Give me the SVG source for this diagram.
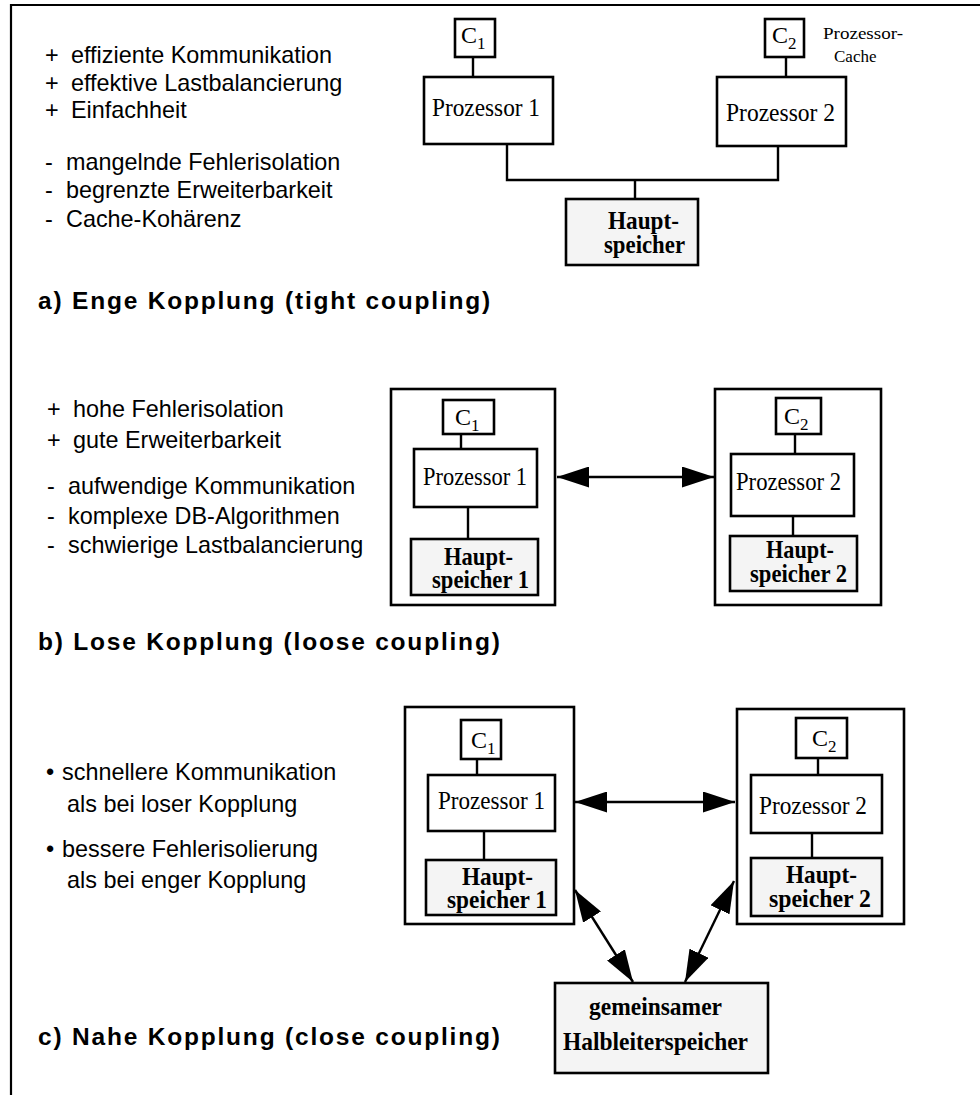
<svg xmlns="http://www.w3.org/2000/svg" width="980" height="1095" viewBox="0 0 980 1095">
  <style>
    .box { fill: #ffffff; stroke: #000000; stroke-width: 2.6; }
    .mem { fill: #f4f4f4; stroke: #000000; stroke-width: 2.6; }
    .frame { fill: none; stroke: #000000; stroke-width: 2.2; }
    .link { fill: none; stroke: #000000; stroke-width: 2.4; }
    .arrow { fill: none; stroke: #000000; stroke-width: 2.4; marker-start: url(#head); marker-end: url(#head); }
    .lbl { font-family: "Liberation Serif", "Times New Roman", serif; font-size: 26px; fill: #000000; }
    .lblb { font-family: "Liberation Serif", "Times New Roman", serif; font-size: 25px; font-weight: bold; fill: #000000; }
    .cache { font-family: "Liberation Serif", "Times New Roman", serif; font-size: 24px; fill: #000000; }
    .note { font-family: "Liberation Serif", "Times New Roman", serif; font-size: 17px; fill: #000000; }
    .txt { font-family: "Liberation Sans", Arial, sans-serif; font-size: 23.4px; fill: #000000; }
    .title { font-family: "Liberation Sans", Arial, sans-serif; font-size: 24.5px; font-weight: bold; letter-spacing: 1.8px; fill: #000000; }
  </style>
  <defs>
    <marker id="head" viewBox="0 0 32 21" refX="32" refY="10.5" markerWidth="32" markerHeight="21" markerUnits="userSpaceOnUse" orient="auto-start-reverse">
      <path d="M0,0 L32,10.5 L0,21 z" fill="#000000"/>
    </marker>
  </defs>

  <!-- page frame: top and left edges only -->
  <path class="frame" d="M11,1095 V5 H980"/>

  <!-- ===== a) tight coupling ===== -->
  <g id="a-text">
    <text class="txt" x="45" y="63">+</text><text class="txt" x="71" y="63">effiziente Kommunikation</text>
    <text class="txt" x="45" y="91">+</text><text class="txt" x="71" y="91">effektive Lastbalancierung</text>
    <text class="txt" x="45" y="118">+</text><text class="txt" x="71" y="118">Einfachheit</text>
    <text class="txt" x="45" y="170">-</text><text class="txt" x="66" y="170">mangelnde Fehlerisolation</text>
    <text class="txt" x="45" y="198">-</text><text class="txt" x="66" y="198">begrenzte Erweiterbarkeit</text>
    <text class="txt" x="45" y="227">-</text><text class="txt" x="66" y="227">Cache-Kohärenz</text>
    <text class="title" x="38" y="309">a) Enge Kopplung (tight coupling)</text>
  </g>
  <g id="a-cache1">
    <rect class="box" x="455" y="19" width="40" height="38"/>
    <text class="cache" x="461" y="43">C<tspan font-size="17" dy="6">1</tspan></text>
  </g>
  <g id="a-cpu1">
    <rect class="box" x="424" y="77" width="129" height="67"/>
    <text class="lbl" x="432" y="116" textLength="108" lengthAdjust="spacingAndGlyphs">Prozessor 1</text>
  </g>
  <g id="a-cache2">
    <rect class="box" x="765" y="19" width="39" height="38"/>
    <text class="cache" x="772" y="43">C<tspan font-size="17" dy="6">2</tspan></text>
  </g>
  <g id="a-cache-note">
    <text class="note" x="823" y="39" textLength="80" lengthAdjust="spacingAndGlyphs">Prozessor-</text>
    <text class="note" x="834" y="62">Cache</text>
  </g>
  <g id="a-cpu2">
    <rect class="box" x="717" y="77" width="129" height="69"/>
    <text class="lbl" x="726" y="121" textLength="109" lengthAdjust="spacingAndGlyphs">Prozessor 2</text>
  </g>
  <g id="a-mem">
    <rect class="mem" x="566" y="199" width="132" height="66"/>
    <text class="lblb" x="608" y="229" textLength="71" lengthAdjust="spacingAndGlyphs">Haupt-</text>
    <text class="lblb" x="604" y="253" textLength="81" lengthAdjust="spacingAndGlyphs">speicher</text>
  </g>

  <!-- ===== b) loose coupling ===== -->
  <g id="b-text">
    <text class="txt" x="47" y="417">+</text><text class="txt" x="73" y="417">hohe Fehlerisolation</text>
    <text class="txt" x="47" y="448">+</text><text class="txt" x="73" y="448">gute Erweiterbarkeit</text>
    <text class="txt" x="47" y="494">-</text><text class="txt" x="68" y="494">aufwendige Kommunikation</text>
    <text class="txt" x="47" y="524">-</text><text class="txt" x="68" y="524">komplexe DB-Algorithmen</text>
    <text class="txt" x="47" y="553">-</text><text class="txt" x="68" y="553">schwierige Lastbalancierung</text>
    <text class="title" x="38" y="650">b) Lose Kopplung (loose coupling)</text>
  </g>
  <g id="b-node1">
    <rect class="box" x="391" y="389" width="164" height="216"/>
    <rect class="box" x="443" y="400" width="51" height="34"/>
    <text class="cache" x="455" y="425">C<tspan font-size="17" dy="6">1</tspan></text>
    <rect class="box" x="414" y="449" width="123" height="58"/>
    <text class="lbl" x="423" y="485" textLength="104" lengthAdjust="spacingAndGlyphs">Prozessor 1</text>
    <rect class="mem" x="411" y="539" width="127" height="56"/>
    <text class="lblb" x="444" y="565" textLength="69" lengthAdjust="spacingAndGlyphs">Haupt-</text>
    <text class="lblb" x="432" y="588" textLength="97" lengthAdjust="spacingAndGlyphs">speicher 1</text>
  </g>
  <g id="b-node2">
    <rect class="box" x="715" y="389" width="166" height="216"/>
    <rect class="box" x="776" y="398" width="45" height="36"/>
    <text class="cache" x="784" y="424">C<tspan font-size="17" dy="6">2</tspan></text>
    <rect class="box" x="731" y="454" width="123" height="62"/>
    <text class="lbl" x="736" y="490" textLength="105" lengthAdjust="spacingAndGlyphs">Prozessor 2</text>
    <rect class="mem" x="730" y="536" width="127" height="55"/>
    <text class="lblb" x="766" y="558" textLength="68" lengthAdjust="spacingAndGlyphs">Haupt-</text>
    <text class="lblb" x="750" y="582" textLength="97" lengthAdjust="spacingAndGlyphs">speicher 2</text>
  </g>

  <!-- ===== c) close coupling ===== -->
  <g id="c-text">
    <text class="txt" x="46" y="780">•</text><text class="txt" x="62" y="780">schnellere Kommunikation</text>
    <text class="txt" x="67" y="812">als bei loser Kopplung</text>
    <text class="txt" x="46" y="857">•</text><text class="txt" x="62" y="857">bessere Fehlerisolierung</text>
    <text class="txt" x="67" y="888">als bei enger Kopplung</text>
    <text class="title" x="38" y="1045">c) Nahe Kopplung (close coupling)</text>
  </g>
  <g id="c-node1">
    <rect class="box" x="405" y="707" width="169" height="217"/>
    <rect class="box" x="461" y="720" width="40" height="39"/>
    <text class="cache" x="471" y="748">C<tspan font-size="17" dy="6">1</tspan></text>
    <rect class="box" x="428" y="775" width="127" height="56"/>
    <text class="lbl" x="438" y="809" textLength="107" lengthAdjust="spacingAndGlyphs">Prozessor 1</text>
    <rect class="mem" x="426" y="860" width="130" height="55"/>
    <text class="lblb" x="462" y="885" textLength="71" lengthAdjust="spacingAndGlyphs">Haupt-</text>
    <text class="lblb" x="447" y="908" textLength="100" lengthAdjust="spacingAndGlyphs">speicher 1</text>
  </g>
  <g id="c-node2">
    <rect class="box" x="737" y="709" width="167" height="215"/>
    <rect class="box" x="796" y="718" width="51" height="40"/>
    <text class="cache" x="812" y="746">C<tspan font-size="17" dy="6">2</tspan></text>
    <rect class="box" x="751" y="775" width="131" height="58"/>
    <text class="lbl" x="759" y="814" textLength="108" lengthAdjust="spacingAndGlyphs">Prozessor 2</text>
    <rect class="mem" x="751" y="858" width="131" height="58"/>
    <text class="lblb" x="786" y="883" textLength="71" lengthAdjust="spacingAndGlyphs">Haupt-</text>
    <text class="lblb" x="769" y="907" textLength="102" lengthAdjust="spacingAndGlyphs">speicher 2</text>
  </g>
  <g id="c-shared">
    <rect class="mem" x="555" y="983" width="213" height="90"/>
    <text class="lblb" x="589" y="1015" textLength="133" lengthAdjust="spacingAndGlyphs">gemeinsamer</text>
    <text class="lblb" x="563" y="1050" textLength="185" lengthAdjust="spacingAndGlyphs">Halbleiterspeicher</text>
  </g>

  <!-- connectors -->
  <g id="connectors">
    <!-- a -->
    <line class="link" x1="473" y1="57" x2="473" y2="77"/>
    <line class="link" x1="786" y1="57" x2="786" y2="77"/>
    <path class="link" d="M507,144 V180 H778 V146"/>
    <line class="link" x1="635" y1="180" x2="635" y2="199"/>
    <!-- b -->
    <line class="link" x1="461" y1="434" x2="461" y2="449"/>
    <line class="link" x1="468" y1="507" x2="468" y2="539"/>
    <line class="link" x1="795" y1="434" x2="795" y2="454"/>
    <line class="link" x1="793" y1="516" x2="793" y2="536"/>
    <line class="arrow" x1="557" y1="477" x2="714" y2="477"/>
    <!-- c -->
    <line class="link" x1="477" y1="759" x2="477" y2="775"/>
    <line class="link" x1="484" y1="831" x2="484" y2="860"/>
    <line class="link" x1="818" y1="758" x2="818" y2="775"/>
    <line class="link" x1="812" y1="833" x2="812" y2="858"/>
    <line class="arrow" x1="575" y1="802" x2="735" y2="802"/>
    <line class="arrow" x1="575" y1="890" x2="633" y2="982"/>
    <line class="arrow" x1="734" y1="881" x2="685" y2="982"/>
  </g>
</svg>
